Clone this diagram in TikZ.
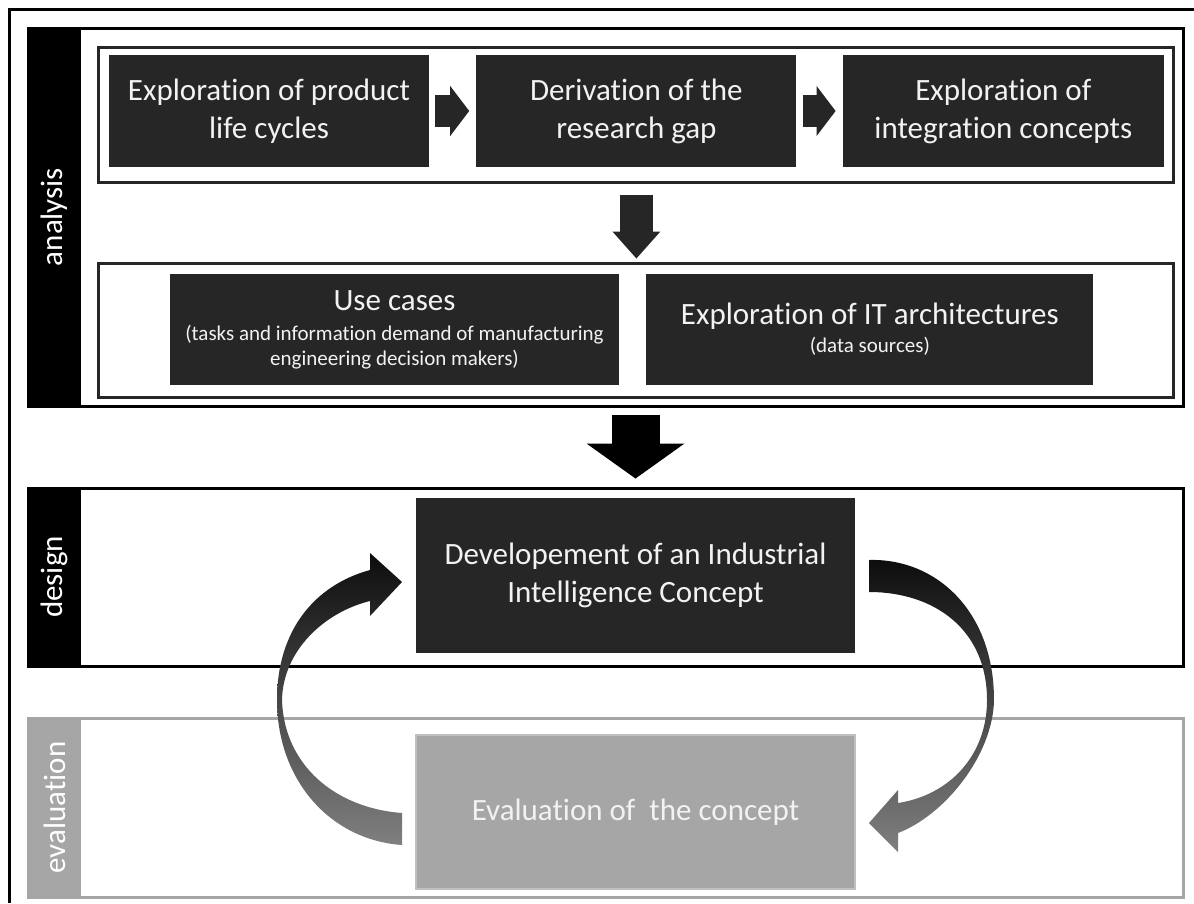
\documentclass[tikz,border=0pt]{standalone}
\usepackage{fontspec}
\setmainfont{Carlito}[Ligatures=NoCommon, RawFeature={-liga;-clig}]
\usetikzlibrary{positioning,calc,arrows.meta}

\definecolor{boxdark}{HTML}{262626}
\definecolor{boxtext}{HTML}{F2F2F2}
\definecolor{evalgray}{HTML}{A6A6A6}
\definecolor{evaledge}{HTML}{BFBFBF}

\newcommand{\smalltxt}{\fontsize{21}{25}\selectfont}

\tikzset{
  phasebox/.style={draw, line width=3pt, minimum width=1155pt, inner sep=0pt},
  phasebar/.style={rotate=90, text=white, minimum height=53pt, inner sep=0pt,
    font=\fontsize{31}{38}\selectfont},
  rowbox/.style={draw=boxdark, line width=3pt, minimum width=1075pt, inner sep=0pt},
  stepbox/.style={fill=boxdark, text=boxtext, align=center, inner sep=0pt,
    minimum width=320pt, minimum height=112pt, font=\fontsize{31}{38}\selectfont},
  rowarrow/.style={boxdark, line width=32pt,
    -{Triangle[length=19pt, width=50pt, line width=0pt]}},
  downarrow/.style={boxdark, line width=33pt,
    -{Triangle[length=27pt, width=48pt, line width=0pt]}},
  bigarrow/.style={black, line width=48pt,
    -{Triangle[length=35pt, width=98pt, line width=0pt]}},
  loopshade/.style={top color=black!95, bottom color=black!50}
}

\begin{document}
\begin{tikzpicture}[x=1pt, y=-1pt]
  \useasboundingbox (0,0) rectangle (1194,903);
  \draw[line width=3pt] (1194,9.5) -- (9.5,9.5) -- (9.5,903);

  \node[phasebox, minimum height=378pt] (analysis) at (605.5,217) {};
  \node[phasebar, fill=black, minimum width=378pt] (lanalysis) at (54.5,217) {analysis};

  \node[rowbox, minimum height=135pt] (row1) at (635.5,114.5) {};
  \node[stepbox] (b1) at (269,111) {Exploration of product\\life cycles};
  \node[stepbox, right=47pt of b1] (b2) {Derivation of the\\research gap};
  \node[stepbox, right=46pt of b2, minimum width=321pt] (b3) {Exploration of\\integration concepts};

  \node[rowbox, minimum height=134pt] (row2) at (635.5,330) {};
  \node[stepbox, minimum width=449pt, minimum height=111pt] (uc) at (394.5,329.5)
    {Use cases\\[-8pt]\smalltxt (tasks and information demand of manufacturing\\[-13pt]
     \smalltxt engineering decision makers)};
  \node[stepbox, minimum width=447pt, minimum height=111pt, right=27pt of uc] (it)
    {Exploration of IT architectures\\[-10pt]\smalltxt (data sources)};

  \draw[rowarrow, shorten <=6pt, shorten >=7pt] (b1) -- (b2);
  \draw[rowarrow, shorten <=6pt, shorten >=7pt] (b2) -- (b3);
  \draw[downarrow, shorten <=11pt, shorten >=3pt] (row1.south -| b2.south) -- (row2.north -| b2.south);

  \node[phasebox, minimum height=178pt] (design) at (605.5,577) {};
  \node[phasebar, fill=black, minimum width=178pt] (ldesign) at (54.5,577) {design};
  \node[stepbox, minimum width=439pt, minimum height=155pt] (dev) at (635.5,575.5)
    {Developement of an Industrial\\Intelligence Concept};

  \draw[bigarrow, shorten <=7pt, shorten >=8pt] (analysis.south -| dev.north) -- (design.north -| dev.north);

  \node[phasebox, draw=evalgray, minimum height=179pt] (evaluation) at (605.5,807.5) {};
  \node[phasebar, fill=evalgray, minimum width=179pt] (levaluation) at (54.5,807.5) {evaluation};
  \node[stepbox, fill=evalgray, draw=evaledge, line width=2pt, minimum width=439pt,
    minimum height=154pt] (eval) at (635.5,812) {Evaluation of\ \ the concept};

  \shade[loopshade] (869,560) .. controls (935,558) and (994,610) .. (994,700)
    .. controls (993,755) and (945,815) .. (898,833)
    -- (898,852) -- (869,823) -- (898,790) -- (898,803)
    .. controls (950,795) and (987,755) .. (987,700)
    .. controls (987,630) and (935,592) .. (869,592) -- cycle;
  \shade[loopshade] (402,845) .. controls (330,840) and (277,780) .. (277,700)
    .. controls (277,630) and (315,585) .. (370,570)
    -- (370,553) -- (402,582) -- (370,616) -- (370,601)
    .. controls (325,612) and (283,650) .. (282,700)
    .. controls (284,765) and (335,808) .. (402,813) -- cycle;
\end{tikzpicture}
\end{document}
